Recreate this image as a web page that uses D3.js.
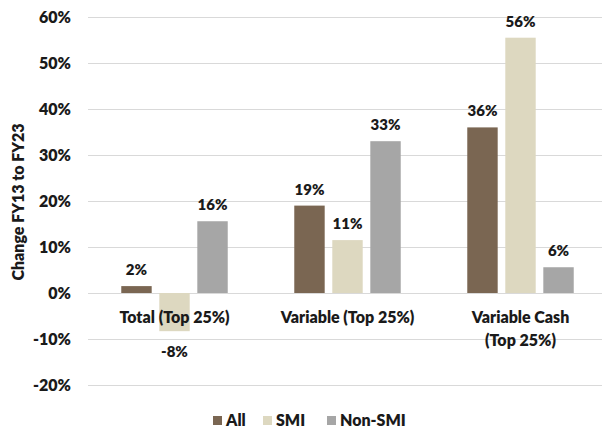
<!DOCTYPE html>
<html><head><meta charset="utf-8">
<script src="https://cdn.jsdelivr.net/npm/d3@7"></script>
<style>body{margin:0;background:#fff}svg{display:block}</style>
</head><body><svg id="c" width="602" height="432"></svg>
<script>
const categories = [["Total (Top 25%)"], ["Variable (Top 25%)"], ["Variable Cash", "(Top 25%)"]];
const seriesNames = ["All", "SMI", "Non-SMI"];
const allValues = [1.5, 19.0, 36.0];
const smiValues = [-8.3, 11.5, 55.5];
const nonSmiValues = [15.6, 33.0, 5.6];
const labelsAll = ["2%", "19%", "36%"];
const labelsSmi = ["-8%", "11%", "56%"];
const labelsNon = ["16%", "33%", "6%"];
const yTicks = [-20, -10, 0, 10, 20, 30, 40, 50, 60];
const colors = ["#7a6652", "#ddd8c0", "#a6a6a6"];

const series = [allValues, smiValues, nonSmiValues];
const labels = [labelsAll, labelsSmi, labelsNon];
const font = "Lato, 'Open Sans', sans-serif";
const fw = 800;
const tc = "#1a1a1a";
const svg = d3.select("#c");
const y = d3.scaleLinear().domain([-20, 60]).range([385, 17]);
const x0 = d3.scaleBand().domain(d3.range(categories.length)).range([88, 607]).paddingInner(0).paddingOuter(0);
const x1 = d3.scaleBand().domain(d3.range(3)).range([0, x0.bandwidth()]).paddingInner(0.2).paddingOuter(0.875);

// gridlines
svg.append("g").selectAll("line").data(yTicks).join("line")
  .attr("x1", 88).attr("x2", 602)
  .attr("y1", d => y(d) + 0.5).attr("y2", d => y(d) + 0.5)
  .attr("stroke", "#d9d9d9").attr("stroke-width", 1);

// y axis labels
const yAxis = d3.axisLeft(y).tickValues(yTicks).tickSize(0).tickPadding(0).tickFormat(d => d + "%");
const ga = svg.append("g").attr("transform", "translate(71,0)").call(yAxis);
ga.select(".domain").remove();
ga.selectAll("text").attr("font-family", font).attr("font-weight", fw).attr("font-size", 16).attr("fill", tc);

// bars
series.forEach((vals, si) => {
  svg.append("g").selectAll("rect").data(vals).join("rect")
    .attr("x", (d, i) => x0(i) + x1(si))
    .attr("width", x1.bandwidth())
    .attr("y", d => y(Math.max(0, d)))
    .attr("height", d => Math.abs(y(d) - y(0)))
    .attr("fill", colors[si]);
  svg.append("g").selectAll("text").data(vals).join("text")
    .attr("x", (d, i) => x0(i) + x1(si) + x1.bandwidth() / 2)
    .attr("y", d => d >= 0 ? y(d) - 11 : y(d) + 26)
    .attr("text-anchor", "middle")
    .attr("font-family", font).attr("font-weight", fw).attr("font-size", 15).attr("fill", tc)
    .text((d, i) => labels[si][i]);
});

// category labels
const cg = svg.append("g");
categories.forEach((lines, i) => {
  const t = cg.append("text").attr("text-anchor", "middle")
    .attr("font-family", font).attr("font-weight", fw).attr("font-size", 16).attr("fill", tc);
  lines.forEach((l, k) => t.append("tspan").attr("x", x0(i) + x0.bandwidth() / 2).attr("y", 323 + k * 23).text(l));
});

// y title
svg.append("text").attr("transform", "translate(24,202) rotate(-90)").attr("text-anchor", "middle")
  .attr("font-family", font).attr("font-weight", fw).attr("font-size", 16).attr("fill", tc)
  .text("Change FY13 to FY23");

// legend
const lx = [213, 263, 327];
const lg = svg.append("g");
seriesNames.forEach((n, i) => {
  lg.append("rect").attr("x", lx[i]).attr("y", 416).attr("width", 9).attr("height", 9).attr("fill", colors[i]);
  lg.append("text").attr("x", lx[i] + 13).attr("y", 426)
    .attr("font-family", font).attr("font-weight", fw).attr("font-size", 16).attr("fill", tc).text(n);
});
</script></body></html>
